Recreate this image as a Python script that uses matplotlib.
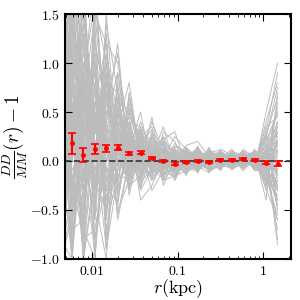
import numpy as np
import matplotlib
matplotlib.use('Agg')
import matplotlib.pyplot as plt
from matplotlib.ticker import FixedLocator, FixedFormatter

plt.rcParams['mathtext.fontset'] = 'cm'
plt.rcParams['font.family'] = 'serif'
plt.rcParams['font.serif'] = ['DejaVu Serif']

# centros de los bines en r (kpc)
r_mock = [0.00435, 0.00590, 0.00802, 0.01089, 0.01479, 0.02009, 0.02729,
          0.03707, 0.05035, 0.06839, 0.09290, 0.1262, 0.1714, 0.2328,
          0.3162, 0.4295, 0.5834, 0.7925, 1.0764, 1.4622]
r_data = r_mock[1:]

# DD/MM - 1 de los datos y su error
xi_data = [0.18, 0.06, 0.125, 0.13, 0.136, 0.078, 0.082, 0.03, -0.003, -0.027,
           -0.01, 0.0, -0.007, 0.01, 0.013, 0.02, 0.01, -0.017, -0.03]
xi_err = [0.105, 0.072, 0.05, 0.035, 0.025, 0.015, 0.015, 0.01, 0.01, 0.012,
          0.01, 0.01, 0.01, 0.01, 0.01, 0.01, 0.01, 0.012, 0.025]

# realizaciones simuladas (en centesimas)
mocks_txt = """
150 80 -40 120 60 30 20 10 5 -8 -5 3 -6 2 4 -3 5 0 -10 20
-100 200 60 -30 90 -20 35 -10 15 8 -12 -4 10 -5 6 2 -4 8 12 -30
300 -60 150 40 -50 55 -15 25 -12 10 6 -10 2 8 -6 5 3 -7 -5 60
-50 30 -100 180 20 10 40 5 20 -15 -8 12 -3 -9 10 -2 8 4 25 -50
80 -100 90 -60 140 70 5 -20 0 12 -2 5 9 3 -4 8 -6 2 -15 10
400 250 20 70 -30 -40 25 30 -18 -5 10 -8 -10 6 2 -7 4 10 8 -80
-20 -80 180 10 100 30 -30 15 10 -20 -15 2 5 -2 8 3 -3 -5 30 90
120 60 -70 -100 40 90 10 -25 25 5 3 8 -12 10 -3 -5 10 6 -20 -20
-100 140 40 90 -70 -10 60 10 -5 20 -10 -5 4 -6 12 6 -2 -3 5 40
220 -30 -50 30 70 20 -5 40 8 -10 15 10 -2 4 -8 10 6 -10 -8 -40
60 120 100 -40 -100 50 15 -5 30 15 -5 -12 8 -8 5 -4 12 3 15 20
-80 -100 60 150 30 -50 -20 20 -10 -12 8 6 -6 12 -2 4 -5 7 -12 -60
180 40 -90 60 120 100 30 -15 5 25 0 -2 12 -3 7 -8 2 -4 40 80
20 300 30 -80 10 -25 70 5 -20 -3 -18 4 -8 6 3 7 -8 12 -25 0
-100 10 140 20 -40 40 -10 35 15 8 5 14 3 -10 -5 2 6 -6 10 -85
350 -40 -20 110 80 -5 20 -30 -8 -18 12 -6 6 2 9 -6 -3 5 20 50
40 90 -100 -20 50 60 -35 12 40 10 -8 0 -10 8 -7 5 9 -2 -5 -10
-30 -70 70 200 -20 15 45 -8 -15 30 20 -8 2 -4 4 -3 3 9 -30 30
260 180 120 -50 150 0 5 20 0 -8 -2 9 -4 14 -10 8 -7 1 8 -25
-100 50 -60 80 -60 80 -25 -15 12 12 -20 3 7 0 6 -5 5 -8 50 100
100 -100 30 40 20 -30 10 50 -10 -6 8 -15 15 -7 2 12 -4 6 -18 -35
500 130 200 -100 60 35 80 0 20 18 -10 7 -9 5 -4 0 7 -6 10 15
-60 20 -30 130 -90 -15 -10 25 35 -25 4 -3 0 9 11 -9 -1 11 -10 -70
140 220 10 0 110 45 35 -40 -25 2 25 12 -5 -12 0 6 4 -4 35 45
-100 -50 100 70 40 120 -5 15 5 35 -6 -9 10 3 -6 3 -10 3 -8 5
70 100 -80 -70 0 5 50 8 -30 -10 12 4 -7 7 8 -4 6 0 18 -15
200 -20 50 100 70 -60 0 -20 18 6 -15 -10 3 -2 -9 9 0 8 -40 70
-40 160 -10 -90 30 25 20 30 -3 -14 2 10 -12 11 5 -7 8 -9 0 -45
320 0 80 50 -30 65 -25 10 10 22 30 -5 5 -6 3 4 -6 5 22 25
-100 70 160 10 90 -35 15 -5 45 -20 -3 16 20 4 -3 -2 3 -3 -22 -20
90 -10 20 -40 20 10 5 0 -5 4 -4 2 -2 3 1 -1 2 3 -6 8
-100 40 -40 50 0 25 -5 12 8 -4 3 -3 4 -1 2 5 -1 -2 4 -12
160 110 50 20 -10 -5 12 3 2 7 -7 1 -4 5 -2 1 4 1 2 15
30 -30 80 90 50 35 0 -6 10 -2 1 5 1 -3 4 2 -3 4 -9 -8
240 60 -20 0 40 0 18 8 -2 -8 -1 -2 6 2 -1 -3 1 -1 7 22
-20 150 0 60 -20 15 -8 16 4 3 5 -6 -1 1 5 3 5 2 -3 -5
110 -90 40 -10 70 20 28 -2 0 9 -5 3 2 -5 0 4 0 -5 12 30
-100 80 110 30 10 50 6 4 14 -6 0 -1 -3 4 3 -1 2 6 -14 -25
180 20 -50 140 -50 -10 14 -12 6 1 -9 6 3 0 -4 0 -2 0 3 2
60 0 130 -30 30 30 2 20 -6 5 2 -4 -5 2 6 6 3 -4 10 -15
270 -40 90 160 100 -20 30 5 -10 12 6 -3 -7 -4 3 7 -5 4 15 35
-100 120 -100 40 -30 40 -15 22 2 -12 -6 8 5 10 -2 -6 1 -7 -16 -55
50 260 70 -60 80 70 8 -14 20 16 10 -9 -3 -1 7 1 8 2 26 65
130 -70 -60 100 -10 -25 55 18 -12 -2 -12 4 9 -8 -5 5 -4 8 -4 -30
-70 30 190 -20 60 110 -12 28 6 8 2 -7 -8 6 9 -2 6 -1 6 10
380 90 10 70 -40 20 22 -18 28 -16 7 11 0 -9 -3 -8 -2 10 -24 40
10 -100 120 0 130 -45 40 35 -4 24 -14 -2 11 3 1 2 9 -3 18 -40
-100 170 -20 110 -80 55 -2 -10 16 -9 18 6 -9 8 -7 8 -5 5 -11 18
200 50 60 -100 90 -5 65 6 -20 10 -1 -11 2 -5 4 -4 3 -6 28 -10
90 -20 -80 170 20 35 -20 14 12 -7 9 1 13 1 10 3 -8 9 -2 55
-50 100 150 50 -60 90 12 -22 -8 18 -4 7 -6 12 -8 6 7 -2 -20 -28
290 -90 40 -30 110 10 48 26 22 -18 13 -5 4 -4 2 -6 4 -8 9 12
-10 210 -50 80 40 -55 0 2 -16 14 -9 13 -1 7 -1 9 -1 6 -7 -45
170 10 170 -80 -20 75 26 -28 9 3 4 -8 7 -11 6 -1 5 -4 24 75
-100 -60 30 120 70 -15 -18 18 32 -11 -16 2 -11 2 -5 7 -6 7 -13 -18
110 140 -40 20 -90 45 38 -4 -14 20 11 9 8 -7 3 -2 10 -1 4 8
340 0 90 -40 50 15 -28 32 3 -1 -3 -13 -2 5 7 4 -3 3 -28 -60
-80 60 -70 150 120 -30 18 -16 24 9 6 3 14 -2 -6 -5 2 -5 12 28
30 -40 60 70 0 60 52 8 -7 -13 -7 -4 -4 9 0 10 -7 1 -9 -22
230 110 -100 -10 20 -20 -6 24 14 6 15 8 1 -6 8 -3 6 -6 16 48
-100 20 100 90 -40 30 10 -8 -3 11 -11 -1 6 1 -3 1 0 4 -1 -8
150 70 0 -50 80 5 22 12 1 -5 4 5 -4 -2 1 -4 4 -2 5 5
20 -20 50 30 10 -10 0 -4 7 2 -3 -2 2 4 -2 2 -2 3 -4 12
250 130 -30 60 40 40 16 9 -1 -3 1 7 -1 -1 3 0 1 -1 8 -18
-60 50 70 -30 60 20 -12 6 11 6 -6 0 3 -4 2 3 3 2 -7 20
120 -50 20 100 -10 0 25 -3 -4 -1 2 -5 -5 3 -1 1 -3 0 3 -3
60 90 130 10 30 65 4 14 3 10 -2 3 0 -2 4 -2 1 5 -2 35
-100 -30 -10 40 100 -5 -3 -1 5 -7 0 -3 5 0 -3 5 -1 -3 10 -26
190 30 80 -20 -50 25 30 2 9 0 7 2 -2 6 0 -1 5 1 -5 0
80 180 10 50 20 50 -15 10 -2 4 -5 -1 1 -2 5 1 -4 -1 1 -10
"""
mocks = np.array([[float(v) for v in line.split()]
                  for line in mocks_txt.strip().splitlines()]) / 100.0

fig = plt.figure(figsize=(3, 3), dpi=100)
ax = fig.add_axes([0.217, 0.137, 0.753, 0.816])

for m in mocks:
    ax.plot(r_mock, m, color='#bcbcbc', lw=0.7, zorder=1)

ax.axhline(0, color='#333333', ls='--', lw=1.2, zorder=2)
ax.errorbar(r_data, xi_data, yerr=xi_err, fmt='o', color='red', ms=2.5,
            elinewidth=1.5, capsize=3, capthick=1.2, zorder=3)

ax.set_xscale('log')
ax.set_xlim(0.0049, 2.1)
ax.set_ylim(-1.0, 1.5)

ax.xaxis.set_major_locator(FixedLocator([0.01, 0.1, 1]))
ax.xaxis.set_major_formatter(FixedFormatter([r'$0.01$', r'$0.1$', r'$1$']))
yt = [-1.0, -0.5, 0.0, 0.5, 1.0, 1.5]
ax.yaxis.set_major_locator(FixedLocator(yt))
ax.yaxis.set_major_formatter(FixedFormatter([r'$%.1f$' % v for v in yt]))

ax.tick_params(which='both', direction='in', top=True, right=True, labelsize=10)
ax.tick_params(which='major', length=5, width=0.8)
ax.tick_params(which='minor', length=2.5, width=0.6)
ax.tick_params(axis='y', which='minor', left=False, right=False)
for s in ax.spines.values():
    s.set_linewidth(1.5)

ax.set_xlabel(r'$r(\rm kpc)$', fontsize=13, labelpad=0)
ax.set_ylabel(r'$\frac{DD}{MM}(r)-1$', fontsize=14, labelpad=0)

fig.savefig('out.png', dpi=100)
